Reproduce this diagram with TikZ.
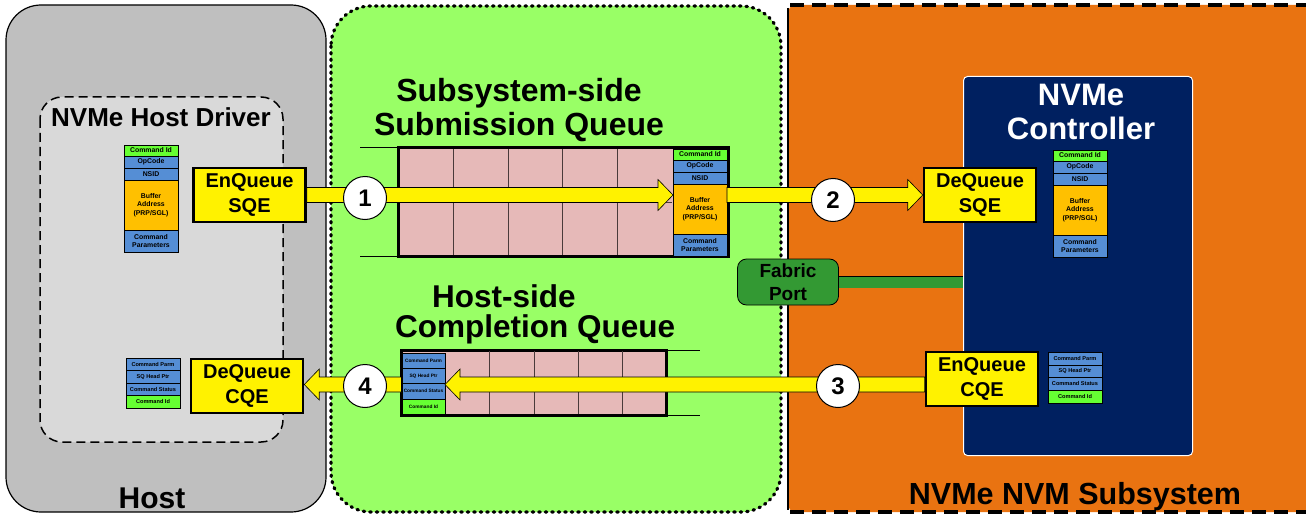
\documentclass[tikz,border=0pt]{standalone}
\usepackage{fontspec}
\setmainfont{Liberation Sans}
\usetikzlibrary{calc}
\definecolor{hostgray}{HTML}{BFBFBF}
\definecolor{drvgray}{HTML}{D9D9D9}
\definecolor{midgreen}{HTML}{99FF66}
\definecolor{subor}{HTML}{E97311}
\definecolor{navy}{HTML}{002060}
\definecolor{cellpink}{HTML}{E6B9B8}
\definecolor{cmdblue}{HTML}{558ED5}
\definecolor{cmdorange}{HTML}{FFC000}
\definecolor{cmdgreen}{HTML}{66FF33}
\definecolor{fabgreen}{HTML}{339933}
\definecolor{celline}{HTML}{4A3A3A}

\newcommand\sqebox[3]{%
 \node[sqrow, fill=cmdgreen, minimum height=11pt] (#1id) at (#2,#3) {Command Id};
 \node[sqrow, fill=cmdblue, minimum height=12pt] (#1op) at (#1id.south west) {OpCode};
 \node[sqrow, fill=cmdblue, minimum height=12pt] (#1ns) at (#1op.south west) {NSID};
 \node[sqrow, fill=cmdorange, minimum height=50pt] (#1buf) at (#1ns.south west) {Buffer\\Address\\(PRP/SGL)};
 \node[sqrow, fill=cmdblue, minimum height=22pt] (#1par) at (#1buf.south west) {Command\\Parameters};}

\newcommand\cqebox[5]{%
 \node[#5, fill=cmdblue, minimum height=#4] (#1pm) at (#2,#3) {Command Parm};
 \node[#5, fill=cmdblue, minimum height=#4] (#1hp) at (#1pm.south west) {SQ Head Ptr};
 \node[#5, fill=cmdblue, minimum height=#4] (#1st) at (#1hp.south west) {Command Status};
 \node[#5, fill=cmdgreen, minimum height=#4] (#1id) at (#1st.south west) {Command Id};}

\newcommand\yarrow[3]{%
 \filldraw[yarr] ($(#1)+(0,-7.5)$) -- ($(#2)+({-15*#3},-7.5)$) -- ($(#2)+({-15*#3},-15.5)$) -- (#2)
   -- ($(#2)+({-15*#3},15.5)$) -- ($(#2)+({-15*#3},7.5)$) -- ($(#1)+(0,7.5)$) -- cycle;}

\begin{document}
\begin{tikzpicture}[x=1pt,y=-1pt,
 actbox/.style={draw=black, line width=2.5pt, fill=yellow, minimum width=112pt, minimum height=54pt,
   inner sep=0pt, align=center, font=\fontsize{20}{25}\selectfont\bfseries},
 stepnum/.style={circle, draw=black, line width=1pt, fill=white, minimum size=43pt, inner sep=0pt,
   font=\fontsize{24}{24}\selectfont\bfseries},
 crow/.style={draw=black, line width=0.5pt, inner sep=0pt, outer sep=0pt, anchor=north west, align=center, text=black},
 sqrow/.style={crow, minimum width=54pt, font=\fontsize{6.9}{8.4}\selectfont\bfseries},
 hcqrow/.style={crow, minimum width=54pt, font=\fontsize{5.6}{6}\selectfont\bfseries},
 qcqrow/.style={crow, minimum width=43pt, font=\fontsize{4.8}{5}\selectfont\bfseries},
 titletext/.style={align=center, font=\fontsize{31}{34}\selectfont\bfseries, inner sep=0pt},
 yarr/.style={fill=yellow, draw=black, line width=0.6pt, line join=miter},
 queuebox/.style={draw=black, line width=3pt, fill=cellpink, inner sep=0pt, outer sep=0pt, anchor=north west},
 cellgrid/.style={draw=celline, line width=0.7pt}]
\useasboundingbox (0,0) rectangle (1306,516);

% regions
\draw[fill=hostgray, line width=1.2pt, rounded corners=35pt] (6,5) rectangle (326,512);
\draw[fill=midgreen, line width=3.2pt, dash pattern=on 1.5pt off 5pt, line cap=round, rounded corners=40pt] (331,6) rectangle (781,512);
\fill[subor, rounded corners=8pt] (788,5) rectangle (1330,512);
\draw[line width=3.5pt, dash pattern=on 14pt off 8pt] (790,5) -- (1306,5);
\draw[line width=3.5pt, dash pattern=on 14pt off 8pt] (790,512) -- (1306,512);
\draw[line width=2pt] (788,8) -- (788,510);
\draw[fill=drvgray, line width=1.5pt, dash pattern=on 9pt off 5pt, rounded corners=22pt] (40,97) rectangle (283,442);
\node[draw=white, line width=1pt, fill=navy, rounded corners=4pt, minimum width=229pt, minimum height=379pt,
  anchor=north west, inner sep=0pt] (ctrl) at (963,76) {};

% titles
\node[font=\fontsize{26}{28}\selectfont\bfseries, inner sep=0pt] (drvt) at (161,117) {NVMe Host Driver};
\node[titletext, font=\fontsize{32}{34}\selectfont\bfseries] (sqt) at (519,110) {Subsystem-side\\Submission Queue};
\node[titletext, align=left, anchor=west, font=\fontsize{31.5}{30}\selectfont\bfseries] (cqt) at (395,314)
  {\hspace*{37pt}Host-side\\Completion Queue};
\node[titletext, text=white] (ctrlt) at (1081,112) {NVMe\\Controller};
\node[titletext, font=\fontsize{30}{34}\selectfont\bfseries] (hostt) at (152,498) {Host};
\node[titletext, font=\fontsize{30.5}{34}\selectfont\bfseries] (subt) at (1075,497) {NVMe NVM Subsystem};

% submission queue
\draw[line width=0.6pt] (360,147.5) -- (398.5,147.5) (360,256.5) -- (398.5,256.5);
\node[queuebox, minimum width=330pt, minimum height=109pt] (sqq) at (398.5,147.5) {};
\draw[cellgrid] (453,149) -- (453,255) (508,149) -- (508,255) (562,149) -- (562,255) (617,149) -- (617,255)
  (400,202) -- (672,202);
% completion queue
\node[queuebox, minimum width=264.5pt, minimum height=65pt] (cqq) at (401.5,350) {};
\draw[line width=0.6pt] (cqq.north east) -- (700,350) (cqq.south east) -- (700,415);
\draw[cellgrid] (489,351) -- (489,414) (534,351) -- (534,414) (578,351) -- (578,414) (622,351) -- (622,414)
  (445,383) -- (665,383);

% command boxes
\sqebox{h}{124}{145}
\sqebox{q}{673}{149}
\sqebox{c}{1053}{150}
\cqebox{hc}{126}{358}{12.5pt}{hcqrow}
\cqebox{qc}{402}{353}{15.25pt}{qcqrow}
\cqebox{cc}{1048}{352}{12.75pt}{hcqrow}

% action boxes
\node[actbox] (enqsqe) at (249.5,195) {EnQueue\\SQE};
\node[actbox] (deqsqe) at (980,195) {DeQueue\\SQE};
\node[actbox] (enqcqe) at (982,379) {EnQueue\\CQE};
\node[actbox] (deqcqe) at (247,386) {DeQueue\\CQE};

% fabric port
\node[draw=black, line width=0.8pt, fill=fabgreen, rounded corners=9pt, minimum width=101pt, minimum height=46pt,
  align=center, font=\fontsize{19}{23}\selectfont\bfseries, inner sep=0pt] (fab) at (788,282) {Fabric\\Port};
\draw[line width=0.8pt, double=fabgreen, double distance=11pt] (fab.east) -- (fab.east -| ctrl.west);

% arrows
\coordinate (ycq) at (0,384.5);
\coordinate (a1s) at (enqsqe.east);
\coordinate (a1e) at (enqsqe.east -| qbuf.west);
\coordinate (a2s) at (qbuf.east |- deqsqe.west);
\coordinate (a2e) at (deqsqe.west);
\coordinate (a3s) at (enqcqe.west |- ycq);
\coordinate (a3e) at (qchp.east |- ycq);
\coordinate (a4s) at (cqq.west |- ycq);
\coordinate (a4e) at (deqcqe.east |- ycq);
\yarrow{a1s}{a1e}{1}
\yarrow{a2s}{a2e}{1}
\yarrow{a3s}{a3e}{-1}
\yarrow{a4s}{a4e}{-1}

% step numbers
\node[stepnum] (n1) at (365,198) {1};
\node[stepnum] (n2) at (833,200) {2};
\node[stepnum] (n3) at (838,386) {3};
\node[stepnum] (n4) at (365,386) {4};
\end{tikzpicture}
\end{document}
